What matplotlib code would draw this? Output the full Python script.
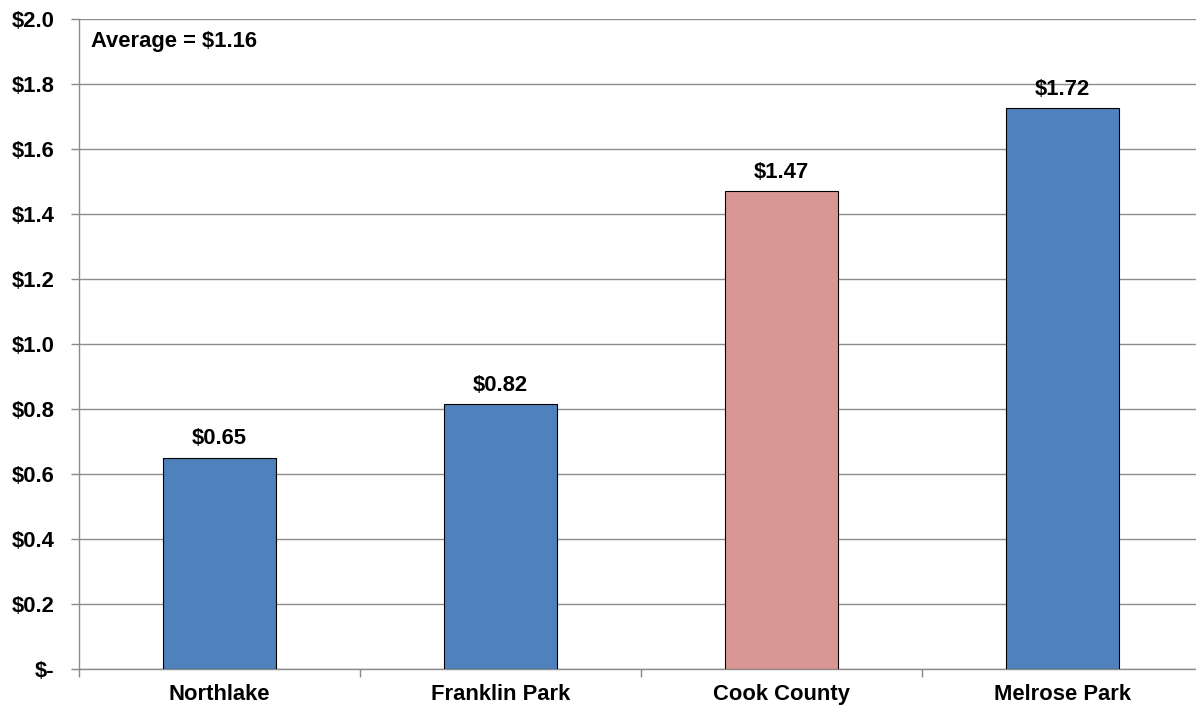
import matplotlib
matplotlib.use("Agg")
import matplotlib.pyplot as plt
from matplotlib.ticker import FixedLocator

categories = ["Northlake", "Franklin Park", "Cook County", "Melrose Park"]
values = [0.65, 0.815, 1.47, 1.725]
value_labels = ["$0.65", "$0.82", "$1.47", "$1.72"]
colors = ["#4F81BD", "#4F81BD", "#D99694", "#4F81BD"]
yticks = [0.0, 0.2, 0.4, 0.6, 0.8, 1.0, 1.2, 1.4, 1.6, 1.8, 2.0]
ytick_labels = ["$-", "$0.2", "$0.4", "$0.6", "$0.8", "$1.0", "$1.2", "$1.4", "$1.6", "$1.8", "$2.0"]
note = "Average = $1.16"

plt.rcParams["font.family"] = ["Liberation Sans", "DejaVu Sans"]
plt.rcParams["font.weight"] = "bold"
FS = 15.8

fig = plt.figure(figsize=(11.96, 7.09), dpi=100)
ax = fig.add_axes([79/1196, 40/709, (1203-79)/1196, 650/709])

x = list(range(len(categories)))
ax.bar(x, values, width=0.4, color=colors, edgecolor="black", linewidth=0.8, zorder=3)
for xi, v, lab in zip(x, values, value_labels):
    ax.annotate(lab, (xi, v), xytext=(0, 6), textcoords="offset points",
                ha="center", va="bottom", fontsize=FS, fontweight="bold")

ax.set_xlim(-0.5, len(categories) - 0.5)
ax.set_ylim(0, 2.0)
ax.set_yticks(yticks)
ax.set_yticklabels(ytick_labels, fontsize=FS, fontweight="bold")
ax.set_xticks(x)
ax.set_xticklabels(categories, fontsize=FS, fontweight="bold")
ax.tick_params(axis="x", which="major", length=0, pad=10.5)
ax.xaxis.set_minor_locator(FixedLocator([i + 0.5 for i in range(-1, len(categories))]))
ax.tick_params(axis="x", which="minor", length=6, color="#888888", width=1)
ax.tick_params(axis="y", length=6, color="#888888", width=1, pad=11.5)

ax.grid(axis="y", color="#8C8C8C", linewidth=1, zorder=0)
for s in ["top", "right"]:
    ax.spines[s].set_visible(False)
for s in ["left", "bottom"]:
    ax.spines[s].set_color("#8C8C8C")
    ax.spines[s].set_linewidth(1)

fig.text(91/1196, 1 - 42/709, note, fontsize=FS, fontweight="bold", ha="left", va="center")

fig.savefig("out.png", dpi=100)
